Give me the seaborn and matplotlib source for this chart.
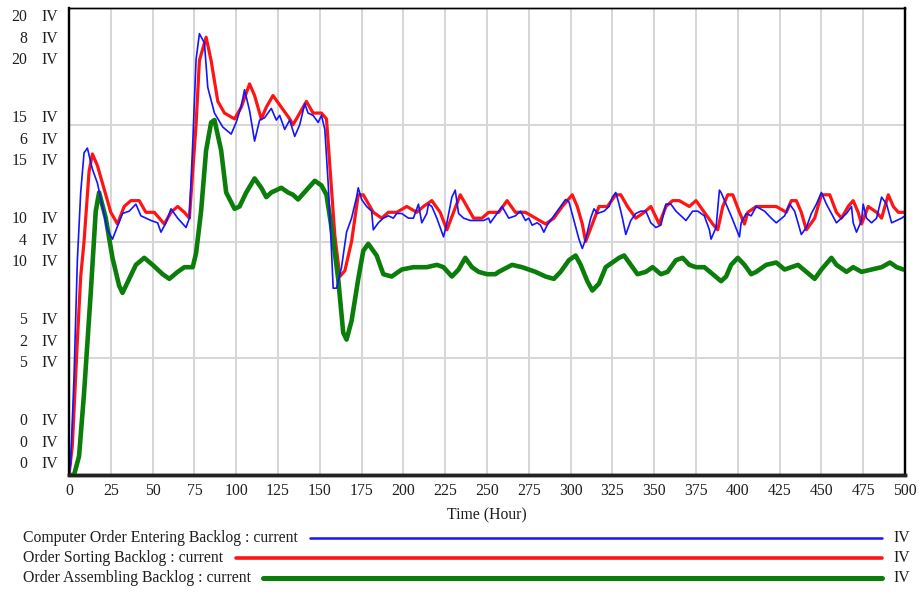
import numpy as np
import seaborn as sns
import matplotlib.pyplot as plt
from matplotlib.lines import Line2D
from matplotlib.transforms import blended_transform_factory

# Computer Order Entering Backlog (scale 0-20)
entering_t = [0, 1, 3, 5, 7, 9, 11, 14, 17, 23, 26, 32, 36, 40, 43, 49, 53, 55, 58, 61,
              65, 70, 72, 74, 76, 78, 81, 83, 87, 92, 97, 100, 103, 105, 108, 111, 114, 117, 120, 121,
              124, 126, 129, 132, 135, 138, 141, 143, 146, 149, 151, 153, 155, 157, 158, 160, 163, 166, 169, 172,
              173, 175, 178, 181, 182, 185, 188, 191, 194, 196, 199, 203, 206, 209, 211, 214, 215, 217, 220, 223,
              224, 226, 229, 231, 233, 236, 240, 244, 248, 251, 252, 255, 259, 263, 267, 270, 273, 275, 277, 280,
              282, 284, 286, 288, 292, 297, 299, 302, 305, 307, 309, 312, 314, 316, 320, 323, 325, 327, 329, 331,
              333, 336, 339, 342, 345, 348, 351, 354, 357, 360, 363, 366, 369, 373, 376, 380, 383, 384, 387, 389,
              390, 393, 396, 401, 402, 405, 408, 411, 416, 420, 423, 428, 431, 434, 438, 441, 444, 447, 450, 453,
              456, 459, 462, 465, 468, 469, 471, 474, 475, 477, 480, 483, 486, 489, 492, 495, 498, 500]
entering_v = [0, 0.5, 4.2, 9.2, 12.1, 13.8, 14.0, 13.1, 12.5, 10.5, 10.1, 11.2, 11.3, 11.6, 11.1, 10.9, 10.8, 10.4, 10.8, 11.4,
              11.0, 10.6, 11.0, 14.2, 17.8, 18.9, 18.5, 16.6, 15.5, 14.9, 14.6, 15.1, 15.8, 16.5, 15.6, 14.3, 15.2, 15.3, 15.6, 15.7,
              15.2, 15.4, 14.8, 15.2, 14.5, 15.0, 15.9, 15.5, 15.4, 15.1, 15.4, 14.8, 12.5, 9.6, 8.0, 8.0, 8.9, 10.4, 11.0, 11.9,
              12.3, 11.8, 11.5, 11.3, 10.5, 10.8, 11.0, 11.1, 11.0, 11.2, 11.2, 11.0, 11.0, 11.6, 10.8, 11.2, 11.6, 11.5, 11.0, 10.4,
              10.2, 10.8, 11.9, 12.2, 11.2, 11.0, 10.9, 10.9, 10.9, 11.0, 10.8, 11.1, 11.5, 11.0, 11.1, 11.3, 10.9, 11.0, 10.7, 10.8,
              10.7, 10.4, 10.7, 10.9, 11.3, 11.8, 11.7, 10.9, 10.1, 9.7, 10.1, 11.0, 11.4, 11.2, 11.3, 11.5, 11.9, 12.1, 11.6, 11.0,
              10.3, 10.9, 11.2, 11.3, 11.3, 10.8, 10.6, 10.7, 11.6, 11.6, 11.3, 11.1, 10.9, 11.3, 11.3, 11.1, 10.5, 10.1, 10.6, 12.2,
              12.1, 11.6, 11.1, 10.2, 10.8, 11.2, 11.1, 11.5, 11.3, 11.0, 10.8, 11.1, 11.6, 11.3, 10.3, 10.6, 11.2, 11.6, 12.1, 11.6,
              11.2, 10.8, 11.0, 11.2, 11.5, 10.8, 10.4, 10.9, 11.6, 11.0, 10.8, 11.0, 11.9, 11.6, 10.8, 10.9, 11.0, 11.1]

# Order Sorting Backlog (scale 0-8)
sorting_t = [0, 2, 5, 7, 9, 12, 14, 17, 21, 25, 29, 33, 37, 42, 46, 51, 57, 61, 65, 69,
             72, 76, 78, 82, 85, 89, 93, 99, 103, 108, 111, 115, 118, 122, 127, 132, 134, 138, 142, 146,
             151, 154, 156, 159, 162, 165, 169, 173, 176, 182, 187, 191, 196, 202, 208, 212, 217, 222, 226, 230,
             234, 238, 242, 247, 251, 257, 262, 267, 273, 279, 285, 290, 295, 301, 304, 307, 309, 313, 317, 322,
             327, 330, 334, 339, 344, 348, 353, 357, 361, 365, 371, 375, 380, 385, 388, 391, 394, 397, 401, 404,
             406, 411, 417, 423, 429, 432, 435, 438, 441, 446, 450, 455, 459, 462, 466, 469, 472, 474, 478, 483,
             486, 490, 493, 496, 500]
sorting_v = [0, 0.5, 2.3, 3.4, 4.0, 5.2, 5.5, 5.3, 4.9, 4.5, 4.3, 4.6, 4.7, 4.7, 4.5, 4.5, 4.3, 4.5, 4.6, 4.5,
             4.4, 6.0, 7.1, 7.5, 7.1, 6.4, 6.2, 6.1, 6.3, 6.7, 6.5, 6.1, 6.3, 6.5, 6.3, 6.1, 6.0, 6.2, 6.4, 6.2,
             6.2, 6.1, 5.3, 4.1, 3.4, 3.5, 4.0, 4.8, 4.8, 4.5, 4.4, 4.5, 4.5, 4.6, 4.5, 4.6, 4.7, 4.5, 4.2, 4.5,
             4.8, 4.6, 4.4, 4.4, 4.5, 4.5, 4.7, 4.5, 4.5, 4.4, 4.3, 4.4, 4.6, 4.8, 4.6, 4.3, 4.0, 4.3, 4.6, 4.6,
             4.8, 4.8, 4.6, 4.4, 4.5, 4.6, 4.3, 4.6, 4.7, 4.7, 4.6, 4.7, 4.5, 4.3, 4.2, 4.6, 4.8, 4.8, 4.5, 4.3,
             4.5, 4.6, 4.6, 4.6, 4.5, 4.7, 4.7, 4.5, 4.2, 4.4, 4.8, 4.8, 4.5, 4.4, 4.6, 4.7, 4.5, 4.3, 4.6, 4.5,
             4.4, 4.8, 4.6, 4.5, 4.5]

# Order Assembling Backlog (scale 0-20)
assembling_t = [0, 3, 6, 9, 13, 16, 18, 22, 26, 30, 32, 36, 40, 45, 50, 56, 60, 65, 69, 74,
                76, 79, 82, 85, 87, 91, 94, 99, 102, 106, 111, 115, 118, 121, 127, 131, 134, 137, 142, 147,
                151, 154, 157, 161, 164, 166, 169, 173, 176, 179, 184, 188, 193, 199, 206, 214, 220, 224, 229, 233,
                237, 241, 245, 250, 255, 257, 265, 271, 279, 285, 290, 294, 299, 303, 306, 310, 313, 317, 321, 325,
                329, 332, 336, 340, 345, 349, 354, 358, 363, 367, 371, 375, 380, 385, 390, 393, 396, 400, 404, 408,
                411, 417, 423, 428, 432, 436, 441, 446, 450, 456, 459, 465, 469, 474, 480, 486, 491, 495, 499]
assembling_v = [0, 0, 0.8, 3.5, 7.8, 11.3, 12.1, 11.0, 9.3, 8.1, 7.8, 8.4, 9.0, 9.3, 9.0, 8.6, 8.4, 8.7, 8.9, 8.9,
                9.5, 11.3, 13.9, 15.1, 15.2, 13.9, 12.1, 11.4, 11.5, 12.1, 12.7, 12.3, 11.9, 12.1, 12.3, 12.1, 12.0, 11.8, 12.2, 12.6,
                12.4, 12.0, 10.6, 8.4, 6.1, 5.8, 6.6, 8.4, 9.6, 9.9, 9.4, 8.6, 8.5, 8.8, 8.9, 8.9, 9.0, 8.9, 8.5, 8.8,
                9.3, 8.9, 8.7, 8.6, 8.6, 8.7, 9.0, 8.9, 8.7, 8.5, 8.4, 8.7, 9.2, 9.4, 9.0, 8.3, 7.9, 8.2, 8.9, 9.1,
                9.3, 9.4, 9.0, 8.6, 8.7, 8.9, 8.6, 8.7, 9.2, 9.3, 9.0, 8.9, 8.9, 8.6, 8.3, 8.5, 9.0, 9.3, 9.0, 8.6,
                8.7, 9.0, 9.1, 8.8, 8.9, 9.0, 8.7, 8.4, 8.8, 9.3, 9.0, 8.7, 8.9, 8.7, 8.8, 8.9, 9.1, 8.9, 8.8]

series_names = ['Computer Order Entering Backlog : current',
                'Order Sorting Backlog : current',
                'Order Assembling Backlog : current']
series_colors = ['#1414ff', '#ff1414', '#0a7d0a']
x_ticks = list(range(0, 501, 25))
# y tick labels per gridline (top to bottom), three stacked scales
scale_labels = [['20', '8', '20'], ['15', '6', '15'], ['10', '4', '10'],
                ['5', '2', '5'], ['0', '0', '0']]

sns.set_style('white')
plt.rcParams['font.family'] = ['Liberation Serif', 'DejaVu Serif']
text_color = '#1e1e1e'
fs = 11.3

fig = plt.figure(figsize=(9.19, 5.92), dpi=100)
# red axis (0-8) sits underneath, carries the grid; blue/green axis (0-20) on top
ax_red = fig.add_axes([69 / 919, 117 / 592, 836 / 919, 467 / 592])
ax = ax_red.twinx()
ax.patch.set_visible(False)

sns.lineplot(x=sorting_t, y=sorting_v, ax=ax_red, color=series_colors[1], linewidth=2.3)
sns.lineplot(x=assembling_t, y=assembling_v, ax=ax, color=series_colors[2], linewidth=3.3)
sns.lineplot(x=entering_t, y=entering_v, ax=ax, color=series_colors[0], linewidth=1.2)

ax_red.set_xlim(0, 500)
ax_red.set_ylim(0, 8)
ax.set_ylim(0, 20)
ax_red.set_xticks(x_ticks)
ax_red.set_xticklabels([str(v) for v in x_ticks], fontsize=fs, color=text_color)
ax_red.set_yticks([0, 2, 4, 6, 8])
ax_red.set_yticklabels([])
ax.set_yticks([])
ax_red.tick_params(axis='both', length=0, pad=6)
ax_red.grid(True, color='#d6d6d6', linewidth=1.4)
ax_red.set_axisbelow(True)
ax_red.set_xlabel('Time (Hour)', fontsize=fs, color=text_color, labelpad=6)
ax_red.set_ylabel('')
ax.set_ylabel('')

for a in (ax_red, ax):
    for side in ['left', 'right', 'top']:
        a.spines[side].set_color('black')
        a.spines[side].set_linewidth(1.6)
    a.spines['bottom'].set_color('#222222')
    a.spines['bottom'].set_linewidth(2.5)
    a.spines['top'].set_linewidth(1.0)

# stacked y scale labels, Vensim style
trans = blended_transform_factory(fig.transFigure, ax.transAxes)
for k, labels in enumerate(scale_labels):
    mid = (475 - (39 + 101 * k)) / 467
    for j, off in enumerate([22, 0, -21]):
        yy = mid + off / 467
        ax.text(27 / 919, yy, labels[j], transform=trans, ha='right', va='center',
                fontsize=fs, color=text_color)
        ax.text(41 / 919, yy, 'IV', transform=trans, ha='left', va='center',
                fontsize=fs, color=text_color)

# legend rows below the chart
legend_y = [538, 558, 578]
line_start = [310, 236, 263]
line_width = [1.8, 2.6, 3.6]
for i in range(3):
    y = 1 - legend_y[i] / 592
    fig.text(23 / 919, y, series_names[i], ha='left', va='center', fontsize=fs, color=text_color)
    fig.add_artist(Line2D([line_start[i] / 919, 882 / 919], [y, y], transform=fig.transFigure,
                          color=series_colors[i], linewidth=line_width[i]))
    fig.text(893 / 919, y, 'IV', ha='left', va='center', fontsize=fs, color=text_color)

fig.savefig('out.png', dpi=100)
